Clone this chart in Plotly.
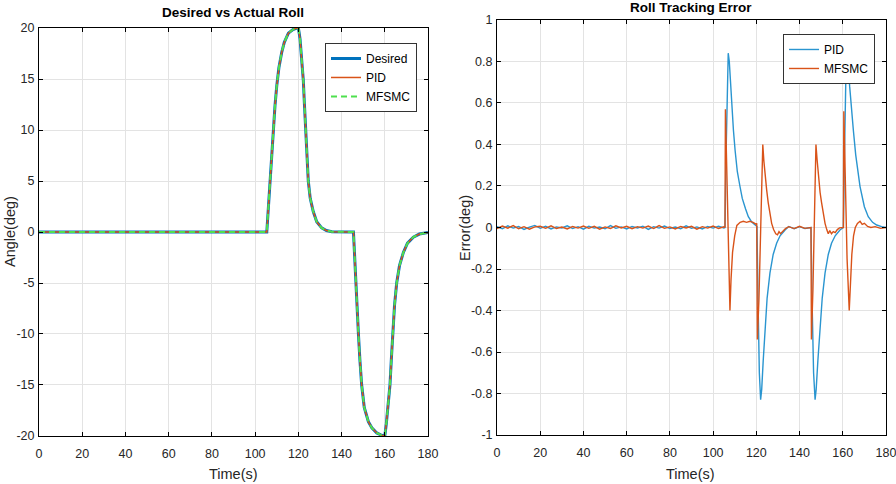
import numpy as np
import plotly.graph_objects as go

FONT = "Liberation Sans Narrow, Arial Narrow, Liberation Sans, Arial, sans-serif"

# ---------------- Left panel: Desired vs Actual Roll ----------------
roll_t = [0, 105.4, 106.2, 106.9, 107.6, 108.4, 109.2, 110.0, 111.0, 112.3, 113.5, 115.4, 117.5, 119.0,
          120.0, 120.4, 120.8, 121.5, 122.3, 122.8, 123.4, 124.0, 124.6, 125.5, 126.9, 128.5, 130.8,
          133.0, 135.5, 145.5, 146.0, 146.5, 147.2, 147.8, 148.5, 149.3, 150.5, 152.4, 154.0, 156.3,
          158.5, 160.0, 160.7, 161.5, 162.4, 163.0, 163.7, 164.5, 165.5, 166.8, 168.6, 170.5, 173.2,
          176.0, 180.0]
desired = [0, 0, 2.6, 5.0, 7.5, 10.0, 12.4, 14.3, 16.1, 17.6, 18.6, 19.5, 19.85, 19.97,
           20.0, 19.5, 18.9, 17.0, 14.9, 12.6, 10.0, 7.4, 5.0, 3.3, 2.0, 1.0, 0.4,
           0.15, 0.03, 0, -2.5, -5.0, -7.8, -10.0, -12.6, -15.0, -17.2, -18.6, -19.2, -19.7,
           -19.93, -20.0, -18.8, -17.0, -15.0, -12.6, -10.0, -7.2, -5.0, -3.3, -2.0, -1.1, -0.5,
           -0.2, -0.05]
pid_angle = desired
mfsmc_angle = desired

# ---------------- Right panel: Roll Tracking Error ----------------
noise_t = list(np.arange(0, 105.01, 2.5))
pid_noise = [0.004, -0.006, 0.008, -0.003, 0.005, -0.009, 0.002, 0.010, -0.004, 0.006,
             -0.007, 0.003, -0.002, 0.008, -0.005, 0.004, -0.008, 0.006, -0.003, 0.002,
             -0.006, 0.009, -0.004, 0.003, -0.007, 0.005, -0.002, 0.006, -0.009, 0.004,
             -0.003, 0.007, -0.005, 0.002, -0.006, 0.008, -0.004, 0.003, -0.007, 0.005,
             -0.003, 0.006, -0.002]
mfsmc_noise = [-0.005, 0.007, -0.003, 0.009, -0.006, 0.004, -0.008, 0.003, 0.006, -0.004,
               0.008, -0.005, 0.002, -0.007, 0.005, -0.003, 0.007, -0.004, 0.006, -0.008,
               0.003, -0.005, 0.008, -0.002, 0.006, -0.006, 0.004, -0.003, 0.007, -0.005,
               0.009, -0.004, 0.003, -0.007, 0.005, -0.002, 0.006, -0.008, 0.004, -0.003,
               0.007, -0.005, 0.003]

pid_ev_t = [105.5, 106.0, 106.5, 107.0, 107.5, 108.0, 108.7, 109.4, 110.2, 111.2, 112.4, 113.5, 115.0,
            116.3, 118.0, 119.5, 120.3, 120.8, 121.4, 122.0, 122.5, 123.2, 124.0, 125.0, 126.3, 127.8,
            129.4, 131.0, 133.3, 135.0, 137.5, 140.0, 142.5, 145.3, 145.8, 146.5, 147.2, 147.7, 148.5,
            149.5, 150.5, 151.8, 153.3, 154.8, 156.5, 158.7, 160.3, 160.8, 161.4, 162.0, 162.5, 163.2,
            164.0, 164.9, 166.0, 167.0, 168.0, 170.0, 171.8, 173.8, 175.7, 178.0, 180.0]
pid_ev = [0.0, 0.35, 0.68, 0.84, 0.80, 0.70, 0.58, 0.47, 0.37, 0.27, 0.20, 0.14, 0.09,
          0.052, 0.025, 0.012, 0.005, -0.35, -0.70, -0.83, -0.78, -0.64, -0.49, -0.34, -0.22, -0.13,
          -0.076, -0.04, -0.012, 0.005, -0.006, 0.004, -0.005, 0.0, -0.35, -0.70, -0.83, -0.78, -0.64,
          -0.49, -0.34, -0.22, -0.13, -0.076, -0.04, -0.012, 0.0, 0.35, 0.70, 0.84, 0.80, 0.68,
          0.57, 0.47, 0.35, 0.26, 0.197, 0.10, 0.052, 0.025, 0.012, 0.004, 0.0]

mfsmc_ev_t = [105.5, 105.7, 106.3, 107.0, 107.8, 108.3, 109.0, 110.0, 111.0, 112.5, 114.0, 115.5, 117.0,
              118.5, 120.0, 120.2, 120.5, 121.2, 122.0, 122.6, 123.0, 123.5, 124.0, 124.8, 125.5, 126.3,
              127.1, 128.0, 129.0, 129.8, 130.5, 131.2, 132.5, 133.5, 135.0, 137.5, 140.0, 142.5, 145.3,
              145.5, 146.2, 147.0, 147.6, 148.1, 148.8, 149.5, 150.2, 151.0, 151.8, 152.6, 153.3, 154.0,
              154.8, 155.6, 156.5, 157.5, 158.5, 160.2, 160.3, 160.5, 161.2, 162.0, 163.0, 163.5, 164.2,
              165.0, 165.8, 166.8, 168.0, 169.0, 170.0, 171.5, 173.0, 175.0, 177.5, 180.0]
mfsmc_ev = [0.0, 0.57, 0.25, -0.15, -0.40, -0.25, -0.12, -0.04, 0.01, 0.025, 0.03, 0.025, 0.03,
            0.025, 0.015, 0.02, -0.54, -0.35, 0.05, 0.32, 0.40, 0.32, 0.25, 0.18, 0.12, 0.06,
            0.02, -0.01, -0.03, -0.035, -0.02, -0.03, -0.015, -0.005, 0.004, -0.005, 0.006, -0.004, 0.0,
            -0.54, -0.30, 0.10, 0.40, 0.33, 0.24, 0.17, 0.12, 0.06, 0.02, -0.01, -0.03, -0.015,
            -0.03, -0.02, -0.025, -0.01, -0.002, 0.0, 0.0, 0.56, 0.25, -0.15, -0.40, -0.28, -0.13,
            -0.04, 0.0, 0.02, 0.03, 0.015, 0.02, 0.005, 0.0, 0.004, -0.004, 0.0]

err_pid_t = noise_t + pid_ev_t
err_pid = pid_noise + pid_ev
err_mfsmc_t = noise_t + mfsmc_ev_t
err_mfsmc = mfsmc_noise + mfsmc_ev

x_ticks = [0, 20, 40, 60, 80, 100, 120, 140, 160, 180]
x_ticktext = ["0", "20", "40", "60", "80", "100", "120", "140", "160", "180"]
y1_ticks = [-20, -15, -10, -5, 0, 5, 10, 15, 20]
y1_ticktext = ["-20", "-15", "-10", "-5", "0", "5", "10", "15", "20"]
y2_ticks = [-1, -0.8, -0.6, -0.4, -0.2, 0, 0.2, 0.4, 0.6, 0.8, 1]
y2_ticktext = ["-1", "-0.8", "-0.6", "-0.4", "-0.2", "0", "0.2", "0.4", "0.6", "0.8", "1"]

BLUE = "#0072BD"
BLUE2 = "#2a95d0"
ORANGE = "#D95319"
GREEN = "#4ee04e"

fig = go.Figure()
fig.add_trace(go.Scatter(x=roll_t, y=desired, name="Desired", mode="lines",
                         line=dict(color=BLUE, width=3), xaxis="x", yaxis="y", legend="legend"))
fig.add_trace(go.Scatter(x=roll_t, y=pid_angle, name="PID", mode="lines",
                         line=dict(color=ORANGE, width=1.5), xaxis="x", yaxis="y", legend="legend"))
fig.add_trace(go.Scatter(x=roll_t, y=mfsmc_angle, name="MFSMC", mode="lines",
                         line=dict(color=GREEN, width=2, dash="6px,4px"), xaxis="x", yaxis="y",
                         legend="legend"))
fig.add_trace(go.Scatter(x=err_pid_t, y=err_pid, name="PID", mode="lines",
                         line=dict(color=BLUE2, width=1.4), xaxis="x2", yaxis="y2", legend="legend2"))
fig.add_trace(go.Scatter(x=err_mfsmc_t, y=err_mfsmc, name="MFSMC", mode="lines",
                         line=dict(color=ORANGE, width=1.4), xaxis="x2", yaxis="y2", legend="legend2"))

axis_common = dict(showline=True, linecolor="black", linewidth=1, mirror="ticks", ticks="inside",
                   ticklen=4, tickcolor="black", showgrid=True, gridcolor="#e3e3e3", gridwidth=1,
                   zeroline=False, automargin=False, ticklabeloverflow="allow",
                   tickfont=dict(family=FONT, size=12.5, color="#262626"))

fig.update_layout(
    template="none",
    width=896, height=484,
    margin=dict(l=0, r=0, t=0, b=0, pad=0, autoexpand=False),
    paper_bgcolor="white", plot_bgcolor="white",
    font=dict(family=FONT, size=13, color="#262626"),
    xaxis=dict(domain=[0.0435, 0.4777], range=[0, 180], tickvals=x_ticks, ticktext=x_ticktext,
               anchor="y", ticklabelstandoff=6, **axis_common),
    yaxis=dict(domain=[0.0992, 0.9421], range=[-20, 20], tickvals=y1_ticks, ticktext=y1_ticktext,
               anchor="x", ticklabelstandoff=1, **axis_common),
    xaxis2=dict(domain=[0.5547, 0.9888], range=[0, 180], tickvals=x_ticks, ticktext=x_ticktext,
                anchor="y2", ticklabelstandoff=6, **axis_common),
    yaxis2=dict(domain=[0.1012, 0.9587], range=[-1, 1], tickvals=y2_ticks, ticktext=y2_ticktext,
                anchor="x2", ticklabelstandoff=1, **axis_common),
    legend=dict(x=0.4654, y=0.9112, xanchor="right", yanchor="top", bgcolor="white",
                bordercolor="#333333", borderwidth=1, font=dict(family=FONT, size=12, color="black"),
                tracegroupgap=0, itemwidth=30),
    legend2=dict(x=0.9766, y=0.9298, xanchor="right", yanchor="top", bgcolor="white",
                 bordercolor="#333333", borderwidth=1, font=dict(family=FONT, size=12, color="black"),
                 tracegroupgap=0, itemwidth=30),
    showlegend=True,
    annotations=[
        dict(text="<b>Desired vs Actual Roll</b>", x=0.2606, y=(484 - 12) / 484, xref="paper",
             yref="paper", showarrow=False, xanchor="center", yanchor="middle",
             font=dict(family=FONT, size=13.5, color="black")),
        dict(text="<b>Roll Tracking Error</b>", x=0.7712, y=(484 - 8) / 484, xref="paper",
             yref="paper", showarrow=False, xanchor="center", yanchor="middle",
             font=dict(family=FONT, size=13.5, color="black")),
        dict(text="Time(s)", x=0.2606, y=(484 - 474) / 484, xref="paper", yref="paper",
             showarrow=False, xanchor="center", yanchor="middle",
             font=dict(family=FONT, size=14.5, color="#262626")),
        dict(text="Time(s)", x=0.7712, y=(484 - 474) / 484, xref="paper", yref="paper",
             showarrow=False, xanchor="center", yanchor="middle",
             font=dict(family=FONT, size=14.5, color="#262626")),
        dict(text="Angle(deg)", x=10 / 896, y=(484 - 232) / 484, xref="paper", yref="paper",
             showarrow=False, xanchor="center", yanchor="middle", textangle=-90,
             font=dict(family=FONT, size=14.5, color="#262626")),
        dict(text="Error(deg)", x=465 / 896, y=(484 - 228) / 484, xref="paper", yref="paper",
             showarrow=False, xanchor="center", yanchor="middle", textangle=-90,
             font=dict(family=FONT, size=14.5, color="#262626")),
    ],
)

fig.write_html("out.html")
